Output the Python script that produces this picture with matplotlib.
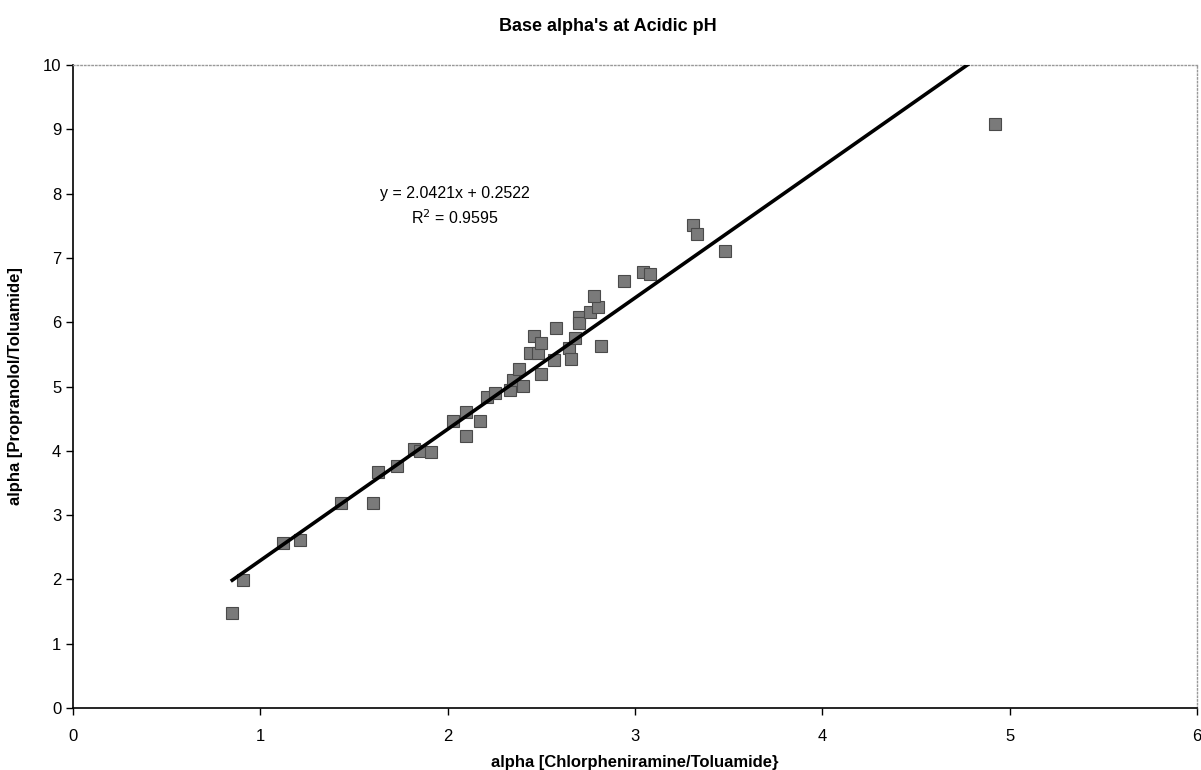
import matplotlib
matplotlib.use('Agg')
import matplotlib.pyplot as plt
import numpy as np

plt.rcParams['font.family'] = ['Liberation Sans', 'DejaVu Sans']

# Data
alpha_chlor = [0.85, 0.91, 1.12, 1.21, 1.43, 1.60, 1.63, 1.73, 1.82, 1.85,
               1.91, 2.03, 2.10, 2.10, 2.17, 2.21, 2.25, 2.33, 2.35, 2.38,
               2.40, 2.44, 2.48, 2.46, 2.50, 2.50, 2.57, 2.58, 2.65, 2.66,
               2.68, 2.70, 2.70, 2.76, 2.80, 2.78, 2.82, 2.94, 3.04, 3.08,
               3.31, 3.33, 3.48, 4.92]
alpha_prop = [1.48, 1.99, 2.57, 2.61, 3.19, 3.19, 3.67, 3.76, 4.03, 4.00,
              3.98, 4.46, 4.60, 4.23, 4.46, 4.84, 4.90, 4.95, 5.10, 5.27,
              5.01, 5.52, 5.52, 5.79, 5.68, 5.19, 5.41, 5.91, 5.60, 5.43,
              5.75, 6.08, 5.99, 6.16, 6.24, 6.41, 5.63, 6.64, 6.78, 6.75,
              7.51, 7.37, 7.11, 9.08]

slope = 2.0421
intercept = 0.2522
r_squared = 0.9595

fig = plt.figure(figsize=(12.01, 7.70), dpi=100)
ax = fig.add_axes([0.0608, 0.0805, 0.9359, 0.8351])

ax.plot(alpha_chlor, alpha_prop, linestyle='none', marker='s', markersize=8,
        markerfacecolor='#7a7a7a', markeredgecolor='#4a4a4a', markeredgewidth=0.8,
        zorder=3)

xfit = np.array([min(alpha_chlor), 6])
ax.plot(xfit, slope * xfit + intercept, color='black', linewidth=2.6, zorder=4)

ax.set_xlim(0, 6)
ax.set_ylim(0, 10)
ax.set_xticks(range(0, 7))
ax.set_yticks(range(0, 11))
ax.tick_params(axis='both', labelsize=12, direction='out', length=5, width=1)
ax.tick_params(axis='x', pad=10)

for side in ['top', 'right']:
    ax.spines[side].set_color('#999999')
    ax.spines[side].set_linestyle(':')
    ax.spines[side].set_linewidth(1)
for side in ['left', 'bottom']:
    ax.spines[side].set_color('black')
    ax.spines[side].set_linewidth(1.2)

ax.text(2.04, 8.0, f'y = {slope}x + {intercept}', fontsize=11.5, ha='center', va='center')
ax.text(2.04, 7.62, f'R$^2$ = {r_squared}', fontsize=11.5, ha='center', va='center')

fig.text(0.506, 0.965, "Base alpha's at Acidic pH", fontsize=13,
         fontweight='bold', ha='center', va='center')
ax.set_xlabel('alpha [Chlorpheniramine/Toluamide}', fontsize=12,
              fontweight='bold', labelpad=8)
ax.set_ylabel('alpha [Propranolol/Toluamide]', fontsize=12,
              fontweight='bold', labelpad=14)

fig.savefig('out.png', dpi=100, facecolor='white')
